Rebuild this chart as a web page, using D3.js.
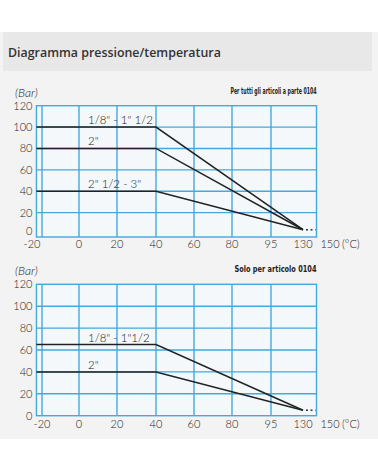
<!DOCTYPE html>
<html>
<head>
<meta charset="utf-8">
<script src="https://cdn.jsdelivr.net/npm/d3@7"></script>
<style>
  body { margin: 0; background: #fff; }
  svg { display: block; }
</style>
</head>
<body>
<script>
// tick values on the axes
var xTicks = [-20, 0, 20, 40, 60, 80, 95, 130, 150];
var yTicks = [0, 20, 40, 60, 80, 100, 120];

// temperatures where the curves break (frame edge, knee, end)
var temps = [-23, 40, 130];

// top chart: all articles except 0104
var topSeries = ['1/8" - 1" 1/2', '2"', '2" 1/2 - 3"'];
var topValues = [[100, 100, 4], [80, 80, 4], [40, 40, 4]];

// bottom chart: article 0104 only
var botSeries = ['1/8" - 1"1/2', '2"'];
var botValues = [[65, 65, 5], [40, 40, 5]];

function init(){
    var w = 378;
    var h = 472;
    var gridColor = "#45a9da";
    var labelFont = "Lato, 'DejaVu Sans', sans-serif";

    var svg = d3.select("body")
                .append("svg")
                .attr("width", w)
                .attr("height", h);

    // grey panel + header band
    svg.append("rect").attr("x", 0).attr("y", 32).attr("width", w).attr("height", 407).attr("fill", "#f3f3f3");
    svg.append("rect").attr("x", 3).attr("y", 32).attr("width", 369).attr("height", 39).attr("fill", "#e8e8e8");
    svg.append("text")
        .attr("x", 8).attr("y", 57)
        .attr("font-family", "'Open Sans', sans-serif")
        .attr("font-weight", 600)
        .attr("font-size", "12.4px")
        .attr("fill", "#333")
        .text("Diagramma pressione/temperatura");

    function drawChart(cfg) {
        var x = d3.scaleLinear()
                  .domain(xTicks)
                  .range([42, 79, 117, 156, 194, 232, 271, 303, 330]);
        var y = d3.scaleLinear()
                  .domain([0, 120])
                  .range(cfg.yRange);

        var left = x(-23), right = x(140);
        var top = y(120), bottom = y(cfg.yFloor);

        var g = svg.append("g");

        g.append("rect")
            .attr("x", left).attr("y", top)
            .attr("width", right - left).attr("height", bottom - top)
            .attr("fill", "#f5f8fa");

        // vertical grid
        g.selectAll("line.vx")
            .data(xTicks.filter(function(d){ return d <= 95; }))
            .enter().append("line")
            .attr("x1", function(d){ return x(d); })
            .attr("x2", function(d){ return x(d); })
            .attr("y1", top).attr("y2", bottom)
            .attr("stroke", gridColor).attr("stroke-width", 1.4);

        // horizontal grid
        g.selectAll("line.hy")
            .data(yTicks.filter(function(d){ return d > 0 && d < 120; }))
            .enter().append("line")
            .attr("x1", left).attr("x2", right)
            .attr("y1", function(d){ return y(d); })
            .attr("y2", function(d){ return y(d); })
            .attr("stroke", gridColor).attr("stroke-width", 1.4);

        g.append("rect")
            .attr("x", left).attr("y", top)
            .attr("width", right - left).attr("height", bottom - top)
            .attr("fill", "none")
            .attr("stroke", gridColor).attr("stroke-width", 1.4);

        // y tick labels
        g.selectAll("text.yt")
            .data(yTicks)
            .enter().append("text")
            .attr("x", left - 4)
            .attr("y", function(d){ return y(d) + 4 + (d === 0 ? cfg.zeroDy : 0); })
            .attr("text-anchor", "end")
            .attr("font-family", labelFont)
            .attr("font-weight", 300)
            .attr("font-size", "11px")
            .attr("fill", "#222")
            .text(function(d){ return d; });

        // x tick labels
        g.selectAll("text.xt")
            .data(xTicks)
            .enter().append("text")
            .attr("x", function(d){ return x(d) + (d === -20 ? cfg.firstDx : 0); })
            .attr("y", cfg.xLabelY)
            .attr("text-anchor", "middle")
            .attr("font-family", labelFont)
            .attr("font-weight", 300)
            .attr("font-size", "11px")
            .attr("fill", "#222")
            .text(function(d){ return d; });

        g.append("text")
            .attr("x", x(150) + 12).attr("y", cfg.xLabelY)
            .attr("font-family", labelFont)
            .attr("font-weight", 300)
            .attr("font-size", "11px")
            .attr("fill", "#222")
            .text("(°C)");

        g.append("text")
            .attr("x", 15).attr("y", top - 9)
            .attr("font-family", labelFont)
            .attr("font-weight", 300)
            .attr("font-style", "italic")
            .attr("font-size", "12px")
            .attr("fill", "#222")
            .text("(Bar)");

        g.append("text")
            .attr("x", right).attr("y", top - 12)
            .attr("text-anchor", "end")
            .attr("font-family", "'Liberation Sans Narrow', 'DejaVu Sans Condensed', sans-serif")
            .attr("font-weight", "bold")
            .attr("font-size", "9px")
            .attr("textLength", cfg.noteWidth)
            .attr("lengthAdjust", "spacingAndGlyphs")
            .attr("fill", "#222")
            .text(cfg.note);

        var line = d3.line()
                     .x(function(d, i){ return x(temps[i]); })
                     .y(function(d){ return y(d); });

        g.selectAll("path.series")
            .data(cfg.values)
            .enter().append("path")
            .attr("d", function(d){ return line(d); })
            .attr("fill", "none")
            .attr("stroke", "#222")
            .attr("stroke-width", 1.5);

        g.selectAll("text.series")
            .data(cfg.series)
            .enter().append("text")
            .attr("x", x(0) + 9)
            .attr("y", function(d, i){ return y(cfg.values[i][0]) - 3; })
            .attr("font-family", labelFont)
            .attr("font-weight", 300)
            .attr("font-size", "11.5px")
            .attr("fill", "#111")
            .text(function(d){ return d; });

        // dotted continuation after 130
        var endV = cfg.values[0][2];
        g.append("line")
            .attr("x1", x(130) + 3).attr("x2", right - 1)
            .attr("y1", y(endV)).attr("y2", y(endV))
            .attr("stroke", "#333").attr("stroke-width", 1.6)
            .attr("stroke-dasharray", "2,2.5");
    }

    drawChart({
        yRange: [234, 105.7], yFloor: -2.8, xLabelY: 248, firstDx: -10, zeroDy: -3,
        series: topSeries, values: topValues,
        note: "Per tutti gli articoli a parte 0104", noteWidth: 86
    });
    drawChart({
        yRange: [415.7, 284.3], yFloor: 0, xLabelY: 428, firstDx: 0, zeroDy: 0,
        series: botSeries, values: botValues,
        note: "Solo per articolo 0104", noteWidth: 82
    });
}
window.onload = init;
</script>
</body>
</html>
